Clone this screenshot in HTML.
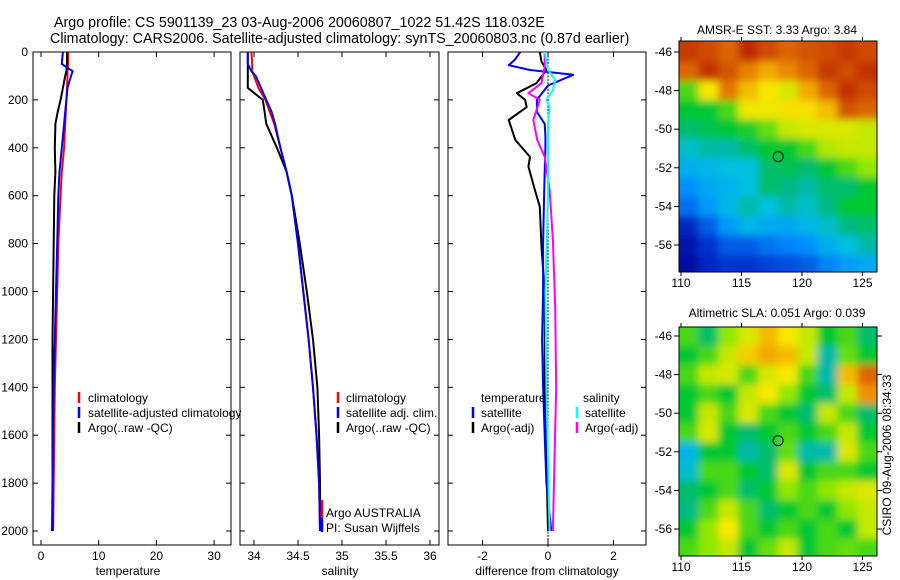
<!DOCTYPE html>
<html><head><meta charset="utf-8"><style>
body{margin:0;background:#fff}
svg{display:block;font-family:"Liberation Sans",sans-serif;font-size:12px}
</style></head><body>
<svg id="fig" width="900" height="580" viewBox="0 0 900 580">
<defs>
<filter id="blur" x="0" y="0" width="1" height="1"><feGaussianBlur stdDeviation="4" edgeMode="duplicate"/></filter>
<clipPath id="cm1"><rect x="679" y="41" width="198" height="231"/></clipPath>
<clipPath id="cm2"><rect x="679" y="327" width="198" height="229"/></clipPath>
<clipPath id="cp1"><rect x="33" y="52" width="198" height="493"/></clipPath>
<clipPath id="cp2"><rect x="240" y="52" width="199" height="493"/></clipPath>
<clipPath id="cp3"><rect x="448" y="52" width="198" height="493"/></clipPath>
</defs>
<text x="54" y="27" font-size="14.3">Argo profile: CS 5901139_23 03-Aug-2006 20060807_1022 51.42S 118.032E</text>
<text x="50" y="43" font-size="14.3">Climatology: CARS2006. Satellite-adjusted climatology: synTS_20060803.nc (0.87d earlier)</text>
<text x="777" y="34" text-anchor="middle">AMSR-E SST: 3.33 Argo: 3.84</text>
<text x="777" y="317" text-anchor="middle">Altimetric SLA: 0.051 Argo: 0.039</text>
<text transform="translate(891,455) rotate(-90)" text-anchor="middle">CSIRO 09-Aug-2006 08:34:33</text>
<g id="layer"></g>
</svg>
<script>
// ---- data ----
const depths = [0,50,80,100,150,200,250,300,400,500,600,800,1000,1200,1400,1600,1800,2000];
const climT = [4.7,4.7,4.6,4.6,4.5,4.4,4.3,4.2,4.0,3.6,3.4,3.0,2.8,2.6,2.4,2.3,2.2,2.1];
const argoT = [4.5,4.5,4.4,4.2,3.8,3.4,2.9,2.5,2.4,2.5,2.3,2.2,2.1,2.0,2.0,2.0,2.0,2.0];
const satT  = [3.8,3.6,5.5,5.2,4.6,4.4,4.2,4.0,3.6,3.2,3.0,2.8,2.6,2.4,2.2,2.1,2.0,1.9];
const climS = [33.97,33.98,33.98,34.0,34.05,34.13,34.18,34.23,34.3,34.37,34.43,34.5,34.56,34.62,34.67,34.71,34.74,34.75];
const argoS = [33.93,33.93,33.93,33.93,33.93,34.1,34.12,34.14,34.26,34.37,34.43,34.52,34.6,34.67,34.72,34.74,34.75,34.75];
const satS  = [33.93,33.93,33.97,34.02,34.08,34.14,34.2,34.24,34.3,34.37,34.43,34.5,34.56,34.62,34.67,34.71,34.74,34.75];
const satDTdep = [0,30,55,75,95,140,200,250,300,350,400,500,600,800,1000,1200,1400,1600,1800,2000];
const satDT = [-0.85,-1.0,-1.2,-0.55,0.77,0,-0.34,-0.34,-0.1,-0.08,-0.08,-0.1,-0.12,-0.15,-0.15,-0.18,-0.15,-0.1,-0.05,0.1];
const argoDTdep = [0,40,75,130,172,200,230,284,367,438,478,576,646,814,1000,1400,2000];
const argoDT = [-0.25,-0.2,-0.05,-0.35,-0.95,-0.7,-0.65,-1.2,-1.0,-0.55,-0.6,-0.4,-0.25,-0.2,-0.1,-0.1,0.0];
const satDSdep = [0,40,75,117,160,200,230,300,600,1000,1400,2000];
const satDS = [-0.1,-0.05,0,0.22,0.15,-0.05,0.05,0.0,0.0,-0.08,-0.05,0.05];
const argoDSdep = [0,60,130,172,200,284,367,438,576,785,1065,1400,1700,2000];
const argoDS = [-0.1,-0.1,-0.2,-0.6,-0.25,-0.45,-0.33,-0.1,0.05,0.15,0.22,0.25,0.2,0.15];
const depthTicks = [0,200,400,600,800,1000,1200,1400,1600,1800,2000];
const tempTicks = [0,10,20,30];
const salTicks = [34,34.5,35,35.5,36];
const salTickLabels = ["34","34.5","35","35.5","36"];
const diffTicks = [-2,0,2];
const latTicks = [-46,-48,-50,-52,-54,-56];
const lonTicks = [110,115,120,125];
const argoLon = 118.03, argoLat = -51.42;
const sstGrid = [
[0.95,0.93,0.9,0.97,0.93,0.9,0.92,0.93,0.95,0.93],
[0.9,0.96,0.92,0.87,0.82,0.86,0.9,0.95,0.93,0.96],
[0.6,0.75,0.88,0.8,0.75,0.72,0.82,0.9,0.96,0.93],
[0.55,0.55,0.6,0.74,0.74,0.76,0.76,0.8,0.92,0.9],
[0.5,0.52,0.55,0.57,0.62,0.7,0.72,0.72,0.72,0.7],
[0.42,0.45,0.45,0.5,0.55,0.55,0.6,0.68,0.7,0.7],
[0.36,0.38,0.4,0.4,0.5,0.52,0.5,0.55,0.6,0.65],
[0.3,0.35,0.37,0.4,0.5,0.48,0.45,0.5,0.5,0.55],
[0.25,0.32,0.38,0.45,0.4,0.45,0.42,0.48,0.55,0.55],
[0.12,0.22,0.32,0.38,0.35,0.35,0.38,0.42,0.48,0.5],
[0.06,0.15,0.22,0.22,0.26,0.28,0.3,0.36,0.4,0.45],
[0.05,0.12,0.16,0.16,0.18,0.2,0.22,0.28,0.33,0.35]];
const slaGrid = [
[0.6,0.5,0.65,0.72,0.8,0.75,0.7,0.55,0.6,0.5],
[0.55,0.6,0.7,0.78,0.82,0.8,0.7,0.45,0.62,0.55],
[0.6,0.7,0.72,0.6,0.72,0.75,0.6,0.45,0.8,0.9],
[0.55,0.6,0.55,0.7,0.75,0.65,0.55,0.5,0.7,0.85],
[0.55,0.7,0.6,0.72,0.6,0.55,0.5,0.7,0.6,0.5],
[0.6,0.72,0.55,0.5,0.55,0.6,0.55,0.6,0.7,0.55],
[0.38,0.55,0.55,0.45,0.5,0.62,0.45,0.45,0.72,0.6],
[0.42,0.6,0.6,0.55,0.5,0.72,0.55,0.6,0.6,0.55],
[0.5,0.55,0.6,0.5,0.55,0.65,0.6,0.65,0.7,0.72],
[0.48,0.6,0.7,0.6,0.5,0.55,0.6,0.55,0.65,0.7],
[0.55,0.65,0.75,0.6,0.55,0.6,0.55,0.6,0.55,0.7],
[0.6,0.65,0.7,0.55,0.62,0.7,0.55,0.6,0.62,0.6]];

// ---- helpers ----
const NS="http://www.w3.org/2000/svg";
const layer=document.getElementById('layer');
function mk(tag,attrs,parent){const e=document.createElementNS(NS,tag);for(const k in attrs)e.setAttribute(k,attrs[k]);(parent||layer).appendChild(e);return e;}
const Y0=52,Y1=545,DMAX=(Y1-Y0)/0.2395;
const yD=d=>Y0+d*(Y1-Y0)/DMAX;
const xT=v=>41+v*5.77;
const xS=v=>254+(v-34)*88;
const xDf=v=>548+v*32.75;

function frame(x0,x1,name){
  const r=mk('rect',{x:x0,y:Y0,width:x1-x0,height:Y1-Y0,fill:'none',stroke:'#000','stroke-width':1});
  
  
  depthTicks.forEach(d=>{
    mk('line',{x1:x0,x2:x0+5,y1:yD(d),y2:yD(d),stroke:'#000'});
    mk('line',{x1:x1-5,x2:x1,y1:yD(d),y2:yD(d),stroke:'#000'});
  });
}
function xticks(vals,labels,fx,x0,x1,name){
  vals.forEach((v,i)=>{
    const x=fx(v);
    mk('line',{x1:x,x2:x,y1:Y1,y2:Y1-5,stroke:'#000'});
    mk('line',{x1:x,x2:x,y1:Y0,y2:Y0+5,stroke:'#000'});
    const t=mk('text',{x:x,y:Y1+15,'text-anchor':'middle'});t.textContent=labels[i];
    
    
  });
}
function line(xs,ds,fx,color,clip,name,w){
  const pts=xs.map((v,i)=>fx(v).toFixed(1)+','+yD(ds[i]).toFixed(1)).join(' ');
  const p=mk('polyline',{points:pts,fill:'none',stroke:color,'stroke-width':w||2,'clip-path':'url(#'+clip+')','stroke-linejoin':'round'});
  
  
}
function label(x,y,s,name,anchor){const t=mk('text',{x:x,y:y,'text-anchor':anchor||'start'});t.textContent=s;
  
  return t;}
function legMark(x,y,color){mk('line',{x1:x,x2:x,y1:y-10,y2:y+1,stroke:color,'stroke-width':2.5});}

// panel 1 temperature
frame(33,231,'temperature-panel');
depthTicks.forEach(d=>{label(28,yD(d)+4,String(d),'depth-tick-label','end');});
xticks(tempTicks,tempTicks.map(String),xT,33,231,'temperature');
line(climT,depths,xT,'#f00','cp1','temperature-climatology-line');
line(argoT,depths,xT,'#000','cp1','temperature-argo-line');
line(satT,depths,xT,'#00f','cp1','temperature-satellite-line');
label(128,575,'temperature','temperature-axis-title','middle');

// panel 2 salinity
frame(240,439,'salinity-panel');
xticks(salTicks,salTickLabels,xS,240,439,'salinity');
line(climS,depths,xS,'#f00','cp2','salinity-climatology-line');
line(argoS,depths,xS,'#000','cp2','salinity-argo-line');
line(satS,depths,xS,'#00f','cp2','salinity-satellite-line');
label(340,575,'salinity','salinity-axis-title','middle');

// panel 3 differences
frame(448,646,'difference-panel');
xticks(diffTicks,diffTicks.map(String),xDf,448,646,'difference');
for(let d=0;d<2060;d+=14){mk('line',{x1:xDf(0),x2:xDf(0),y1:yD(d),y2:yD(d)+2,stroke:'#000','stroke-width':1});}
line(argoDT,argoDTdep,xDf,'#000','cp3','argo-temperature-difference-line',2);
line(satDT,satDTdep,xDf,'#00f','cp3','satellite-temperature-difference-line',2);
line(argoDS,argoDSdep,xDf,'#f0f','cp3','argo-salinity-difference-line',2);
line(satDS,satDSdep,xDf,'#0ff','cp3','satellite-salinity-difference-line',2);
label(547,575,'difference from climatology','difference-axis-title','middle');

// legends
legMark(79,402,'#f00');label(88,402,'climatology','legend-climatology');
legMark(79,417,'#00f');label(88,417,'satellite-adjusted climatology','legend-satellite-adjusted');
legMark(79,432,'#000');label(88,432,'Argo(..raw -QC)','legend-argo');
legMark(338,402,'#f00');label(346,402,'climatology','legend-sal-climatology');
legMark(338,417,'#00f');label(346,417,'satellite adj. clim.','legend-sal-satellite');
legMark(338,432,'#000');label(346,432,'Argo(..raw -QC)','legend-sal-argo');
label(326,517,'Argo AUSTRALIA','argo-program-label');
label(326,532,'PI: Susan Wijffels','pi-label');
mk('line',{x1:322,x2:322,y1:500,y2:518,stroke:'#f00','stroke-width':2.5});
mk('line',{x1:322,x2:322,y1:518,y2:532,stroke:'#00f','stroke-width':2.5});
label(481,402,'temperature','legend-temperature-header');
label(583,402,'salinity','legend-salinity-header');
legMark(473,417,'#00f');label(481,417,'satellite','legend-temp-satellite');
legMark(473,432,'#000');label(481,432,'Argo(-adj)','legend-temp-argo');
legMark(577,417,'#0ff');label(585,417,'satellite','legend-sal-satellite-diff');
legMark(577,432,'#f0f');label(585,432,'Argo(-adj)','legend-sal-argo-diff');

// colormap
const stops=[[0,[0,0,143]],[0.15,[0,48,208]],[0.3,[0,144,255]],[0.4,[0,192,224]],[0.47,[0,184,144]],[0.55,[0,200,48]],[0.65,[144,232,0]],[0.75,[248,232,0]],[0.85,[240,144,0]],[1,[176,16,0]]];
function cmap(v){for(let i=1;i<stops.length;i++){if(v<=stops[i][0]){const a=stops[i-1],b=stops[i],t=(v-a[0])/(b[0]-a[0]);return 'rgb('+a[1].map((c,k)=>Math.round(c+(b[1][k]-c)*t)).join(',')+')';}}return 'rgb(176,16,0)';}

function map(grid,top,latY,clip,name){
  const lonX=lon=>681+(lon-110)*12.1;
  const g=mk('g',{'clip-path':'url(#'+clip+')'});
  
  
  const inner=mk('g',{filter:'url(#blur)'},g);
  const nr=grid.length,nc=grid[0].length;
  const lon0=109.8,lon1=126.2,lat0=-45.5,lat1=-57.5;
  mk('rect',{x:lonX(lon0)-20,y:latY(lat0)-20,width:lonX(lon1)-lonX(lon0)+40,height:latY(lat1)-latY(lat0)+40,fill:cmap(grid[0][0])},inner);
  grid.forEach((row,r)=>row.forEach((v,c)=>{
    let xa=lonX(lon0+(lon1-lon0)*c/nc),xb=lonX(lon0+(lon1-lon0)*(c+1)/nc);
    let ya=latY(lat0+(lat1-lat0)*r/nr),yb=latY(lat0+(lat1-lat0)*(r+1)/nr);
    if(c===0)xa-=20;if(c===nc-1)xb+=20;if(r===0)ya-=20;if(r===nr-1)yb+=20;
    const cell=mk('rect',{x:xa,y:ya,width:xb-xa+0.5,height:yb-ya+0.5,fill:cmap(v)},inner);
    
    
  }));
  const b=top.clip;
  mk('rect',{x:679,y:b[0],width:198,height:b[1]-b[0],fill:'none',stroke:'#000'});
  latTicks.forEach(l=>{mk('line',{x1:674,x2:679,y1:latY(l),y2:latY(l),stroke:'#000'});
    if(top.rightTicks)mk('line',{x1:877,x2:882,y1:latY(l),y2:latY(l),stroke:'#000'});
    label(672,latY(l)+4,String(l),name+'-lat-label','end');});
  lonTicks.forEach(l=>{mk('line',{x1:lonX(l),x2:lonX(l),y1:b[1],y2:b[1]+4,stroke:'#000'});
    mk('line',{x1:lonX(l),x2:lonX(l),y1:b[0]-4,y2:b[0],stroke:'#000'});
    label(lonX(l),b[1]+15,String(l),name+'-lon-label','middle');});
  const c=mk('circle',{cx:lonX(argoLon),cy:latY(argoLat),r:5,fill:'none',stroke:'#000','stroke-width':1});
  
  
}
map(sstGrid,{clip:[41,272],rightTicks:false},l=>52+(-46-l)*19.3,'cm1','sst-map');
map(slaGrid,{clip:[327,556],rightTicks:true},l=>336+(-46-l)*19.3,'cm2','sla-map');
</script>
</body></html>
